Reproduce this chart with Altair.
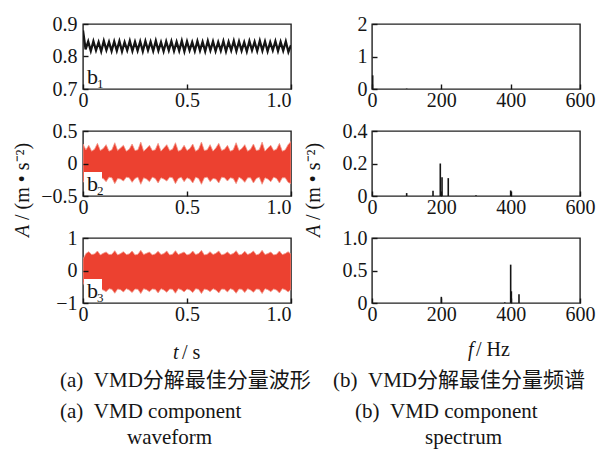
import altair as alt
import pandas as pd

FONT = "Liberation Serif"
MIXED = "'Liberation Serif', 'Noto Sans CJK SC'"
RED = "#EC4130"
FRINGE = "#F3998C"
INK = "#151515"

# ---------------- data ----------------
b1_values = [
    0.880, 0.822, 0.846, 0.817, 0.847, 0.819, 0.844, 0.816, 0.848, 0.820,
    0.845, 0.817, 0.846, 0.818, 0.847, 0.816, 0.844, 0.819, 0.848, 0.817,
    0.845, 0.818, 0.846, 0.816, 0.847, 0.819, 0.845, 0.817, 0.848, 0.818,
    0.844, 0.816, 0.846, 0.819, 0.847, 0.817, 0.845, 0.818, 0.848, 0.816,
    0.846, 0.819, 0.844, 0.817, 0.847, 0.818, 0.845, 0.816, 0.848, 0.819,
    0.846, 0.817, 0.844, 0.818, 0.847, 0.816, 0.845, 0.819, 0.848, 0.817,
    0.846, 0.818, 0.844, 0.816, 0.847, 0.819, 0.845, 0.817, 0.848, 0.818,
    0.846, 0.816, 0.844, 0.819, 0.847, 0.817, 0.845, 0.818, 0.846, 0.814, 0.835,
]

b2_upper = [
    0.30, 0.21, 0.28, 0.19, 0.22, 0.31, 0.20, 0.23, 0.29, 0.19,
    0.21, 0.32, 0.20, 0.24, 0.28, 0.19, 0.22, 0.30, 0.20, 0.21,
    0.33, 0.19, 0.23, 0.28, 0.20, 0.21, 0.31, 0.19, 0.24, 0.29,
    0.20, 0.22, 0.32, 0.19, 0.21, 0.28, 0.20, 0.23, 0.30, 0.19,
    0.22, 0.33, 0.20, 0.21, 0.29, 0.19, 0.24, 0.31, 0.20, 0.22,
    0.28, 0.19, 0.21, 0.32, 0.20, 0.23, 0.29, 0.19, 0.22, 0.30,
    0.20, 0.21, 0.33, 0.19, 0.24, 0.28, 0.20, 0.22, 0.31, 0.19,
    0.21, 0.29, 0.34,
]
b2_lower = [
    -0.29, -0.22, -0.27, -0.21, -0.24, -0.30, -0.22, -0.23, -0.28, -0.21,
    -0.22, -0.31, -0.23, -0.24, -0.27, -0.21, -0.22, -0.29, -0.23, -0.21,
    -0.32, -0.22, -0.24, -0.28, -0.21, -0.23, -0.30, -0.22, -0.24, -0.27,
    -0.21, -0.22, -0.31, -0.23, -0.21, -0.28, -0.22, -0.24, -0.30, -0.21,
    -0.23, -0.32, -0.22, -0.21, -0.28, -0.23, -0.24, -0.30, -0.21, -0.22,
    -0.27, -0.22, -0.23, -0.31, -0.21, -0.24, -0.29, -0.22, -0.22, -0.30,
    -0.23, -0.21, -0.32, -0.22, -0.24, -0.28, -0.21, -0.23, -0.30, -0.22,
    -0.22, -0.29, -0.31,
]

b3_upper = [
    0.35, 0.52, 0.58, 0.49, 0.51, 0.60, 0.48, 0.53, 0.57, 0.49,
    0.50, 0.61, 0.48, 0.52, 0.58, 0.49, 0.51, 0.60, 0.48, 0.50,
    0.62, 0.49, 0.53, 0.57, 0.48, 0.51, 0.59, 0.49, 0.52, 0.60,
    0.48, 0.50, 0.61, 0.49, 0.53, 0.57, 0.48, 0.51, 0.60, 0.49,
    0.52, 0.62, 0.48, 0.50, 0.58, 0.49, 0.53, 0.60, 0.48, 0.51,
    0.57, 0.49, 0.52, 0.61, 0.48, 0.50, 0.59, 0.49, 0.53, 0.60,
    0.48, 0.51, 0.62, 0.49, 0.52, 0.57, 0.48, 0.50, 0.60, 0.49,
    0.52, 0.58, 0.50,
]
b3_lower = [
    -0.35, -0.58, -0.66, -0.56, -0.59, -0.68, -0.57, -0.60, -0.65, -0.56,
    -0.58, -0.70, -0.57, -0.59, -0.66, -0.56, -0.60, -0.68, -0.57, -0.58,
    -0.71, -0.56, -0.59, -0.65, -0.57, -0.58, -0.69, -0.56, -0.60, -0.67,
    -0.57, -0.58, -0.70, -0.56, -0.59, -0.66, -0.57, -0.60, -0.68, -0.56,
    -0.58, -0.71, -0.57, -0.59, -0.65, -0.56, -0.60, -0.69, -0.57, -0.58,
    -0.66, -0.56, -0.59, -0.70, -0.57, -0.58, -0.68, -0.56, -0.60, -0.67,
    -0.57, -0.58, -0.71, -0.56, -0.59, -0.65, -0.57, -0.60, -0.69, -0.56,
    -0.59, -0.66, -0.58,
]

s1_freq = [2, 100, 200]
s1_amp = [0.42, 0.012, 0.006]
s2_freq = [100, 176, 197, 202, 220, 300, 400]
s2_amp = [0.018, 0.032, 0.200, 0.115, 0.110, 0.004, 0.034]
s3_freq = [200, 383, 400, 402, 424]
s3_amp = [0.095, 0.010, 0.590, 0.180, 0.135]

t_ticks = [0, 0.5, 1.0]
f_ticks = [0, 200, 400, 600]
b1_ticks = [0.7, 0.8, 0.9]
b2_ticks = [-0.5, 0, 0.5]
b3_ticks = [-1, 0, 1]
s1_ticks = [0, 1, 2]
s2_ticks = [0, 0.2, 0.4]
s3_ticks = [0, 0.5, 1.0]

W, H = 208, 65
ZERO_OR_1F = "datum.value == 0 ? '0' : format(datum.value, '.1f')"


def times(n):
    return [i / (n - 1) for i in range(n)]


def x_axis(values, expr, last=None):
    kw = dict(values=values, labelExpr=expr, title=None, domain=False, grid=False,
              offset=-5, tickSize=5, labelPadding=1, labelFlush=False,
              labelOverlap=False, labelBound=False, zindex=1,
              labelFont=FONT, labelFontSize=20, labelColor=INK,
              tickColor=INK, tickWidth=1.4)
    if last is not None:
        kw["labelAlign"] = {"condition": {"test": f"datum.value == {last}", "value": "right"},
                            "value": "center"}
    return alt.Axis(**kw)


def y_axis(values, expr, pad=6):
    return alt.Axis(values=values, labelExpr=expr, title=None, domain=False, grid=False,
                    offset=-5, tickSize=5, labelPadding=pad, labelFlush=False,
                    labelOverlap=False, labelBound=False, zindex=1,
                    labelFont=FONT, labelFontSize=20, labelColor=INK,
                    tickColor=INK, tickWidth=1.4)


def tx():
    return alt.X("t:Q", scale=alt.Scale(domain=[0, 1], nice=False, zero=False),
                 axis=x_axis(t_ticks, ZERO_OR_1F, last=1))


def fx():
    return alt.X("f:Q", scale=alt.Scale(domain=[0, 600], nice=False, zero=False),
                 axis=x_axis(f_ticks, "format(datum.value, 'd')"))


def one(**cols):
    return pd.DataFrame({k: [v] for k, v in cols.items()})


def sub_label(digit, box):
    layers = []
    if box:
        layers.append(alt.Chart(one(k="box")).mark_rect(color="white").encode(
            x=alt.value(1), x2=alt.value(19), y=alt.value(41), y2=alt.value(H - 1)))
    layers.append(alt.Chart(one(s="b")).mark_text(
        font=FONT, fontSize=22, align="left", baseline="alphabetic", color=INK).encode(
        x=alt.value(4), y=alt.value(60), text="s:N"))
    layers.append(alt.Chart(one(s=digit)).mark_text(
        font=FONT, fontSize=13, align="left", baseline="alphabetic", color=INK).encode(
        x=alt.value(14), y=alt.value(64), text="s:N"))
    return layers


def text_at(s, x, y, size=20, italic=False, align="left", angle=0, font=FONT):
    kw = dict(font=font, fontSize=size, align=align, baseline="middle", color=INK)
    if italic:
        kw["fontStyle"] = "italic"
    if angle:
        kw["angle"] = angle
    return alt.Chart(one(s=s)).mark_text(**kw).encode(
        x=alt.value(x), y=alt.value(y), text="s:N")


def y_title(x):
    return [text_at("A", x, 106, italic=True, angle=270),
            text_at("/ (m \u2022 s\u207b\u00b2)", x, 89, angle=270)]


def band(df, dom, ticks, expr):
    return alt.Chart(df).mark_area(color=RED, opacity=1, clip=True,
                                   stroke=FRINGE, strokeWidth=0.8).encode(
        x=tx(),
        y=alt.Y("u:Q", scale=alt.Scale(domain=dom, nice=False, zero=False),
                axis=y_axis(ticks, expr)),
        y2="l:Q")


# ---------------- left column: waveforms ----------------
df_b1 = pd.DataFrame({"t": times(len(b1_values)), "v": b1_values})
p1l = alt.layer(
    alt.Chart(df_b1).mark_line(color=INK, strokeWidth=2.3, clip=True).encode(
        x=tx(),
        y=alt.Y("v:Q", scale=alt.Scale(domain=[0.7, 0.9], nice=False, zero=False),
                axis=y_axis(b1_ticks, "format(datum.value, '.1f')"))),
    *sub_label("1", box=False),
).properties(width=W, height=H)

df_b2 = pd.DataFrame({"t": times(len(b2_upper)), "u": b2_upper, "l": b2_lower})
p2l = alt.layer(
    band(df_b2, [-0.5, 0.5], b2_ticks, ZERO_OR_1F),
    *sub_label("2", box=True),
    *y_title(-60),
).properties(width=W, height=H)

df_b3 = pd.DataFrame({"t": times(len(b3_upper)), "u": b3_upper, "l": b3_lower})
p3l = alt.layer(
    band(df_b3, [-1, 1], b3_ticks, "format(datum.value, 'd')"),
    *sub_label("3", box=True),
    text_at("t", 90, 115, italic=True),
    text_at("/ s", 99, 115),
    text_at("(a)\u00a0\u00a0VMD分解最佳分量波形", -23, 143, size=21, font=MIXED),
    text_at("(a)\u00a0\u00a0VMD component", -23, 174, size=21),
    text_at("waveform", 44, 200, size=21),
).properties(width=W, height=H)


# ---------------- right column: spectra ----------------
def spectrum(freq, amp, dom, ticks, expr):
    df = pd.DataFrame({"f": freq, "a": amp})
    return alt.Chart(df).mark_rule(color=INK, strokeWidth=1.6).encode(
        x=fx(),
        y=alt.Y("a:Q", scale=alt.Scale(domain=dom, nice=False, zero=False),
                axis=y_axis(ticks, expr, pad=5)),
        y2=alt.datum(0))


p1r = alt.layer(
    spectrum(s1_freq, s1_amp, [0, 2], s1_ticks, "format(datum.value, 'd')"),
).properties(width=W, height=H)

p2r = alt.layer(
    spectrum(s2_freq, s2_amp, [0, 0.4], s2_ticks, ZERO_OR_1F),
    *y_title(-58),
).properties(width=W, height=H)

p3r = alt.layer(
    spectrum(s3_freq, s3_amp, [0, 1], s3_ticks, ZERO_OR_1F),
    text_at("f", 96, 112, italic=True),
    text_at("/ Hz", 104, 112),
    text_at("(b)\u00a0\u00a0VMD分解最佳分量频谱", -39, 143, size=21, font=MIXED),
    text_at("(b)\u00a0\u00a0VMD component", -17, 174, size=21),
    text_at("spectrum", 53, 200, size=21),
).properties(width=W, height=H)

chart = alt.concat(
    p1l, p1r, p2l, p2r, p3l, p3r,
    columns=2, spacing={"row": 42, "column": 81}, bounds="flush",
).properties(
    padding={"left": 12, "top": 13, "right": 0, "bottom": 0},
    background="white",
).configure_view(
    stroke="#222222", strokeWidth=1.4,
).configure_axis(
    labelFont=FONT, labelFontSize=20, labelColor=INK,
    tickColor=INK, tickWidth=1.4,
)

chart.save("out.html", embed_options={"renderer": "svg", "actions": False})
